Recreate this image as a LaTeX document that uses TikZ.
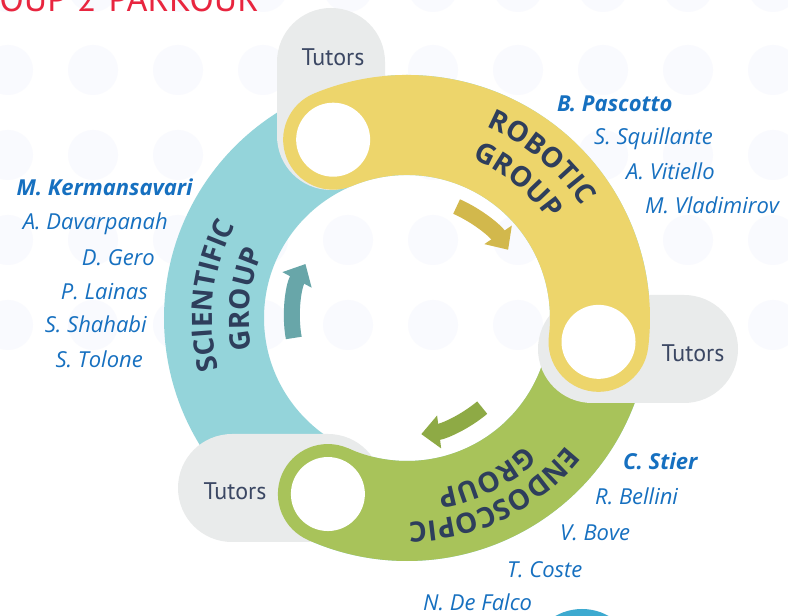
\documentclass[tikz,border=0pt]{standalone}
\usepackage{fontspec}
\newfontfamily\namefont{Open Sans}
\newfontfamily\tutfont{PT Sans}
\newfontfamily\grpfont{Open Sans}
\usetikzlibrary{arrows.meta,decorations.text}
\definecolor{tealband}{HTML}{94D4DA}
\definecolor{yellowband}{HTML}{EDD56B}
\definecolor{greenband}{HTML}{A8C35A}
\definecolor{pillgrey}{HTML}{E9EBEB}
\definecolor{navy}{HTML}{2E3E5C}
\definecolor{tutorc}{HTML}{3B4763}
\definecolor{nameblue}{HTML}{1670C0}
\definecolor{titlered}{HTML}{E8253F}
\definecolor{arrowY}{HTML}{D2B84C}
\definecolor{arrowT}{HTML}{68A6A9}
\definecolor{arrowG}{HTML}{8EAA45}
\definecolor{dotc}{HTML}{F9FAFE}
\definecolor{blobc}{HTML}{3DAAD0}
\tikzset{
  member/.style={font=\namefont\itshape\fontsize{22}{22}\selectfont, text=nameblue, inner sep=0pt},
  leader/.style={member, font=\namefont\bfseries\itshape\fontsize{22}{22}\selectfont},
  tutorlbl/.style={font=\tutfont\fontsize{24}{24}\selectfont, text=tutorc, inner sep=0pt},
  pillshape/.style={fill=pillgrey, rounded corners=54pt},
  band/.style={line width=100pt},
  turnarrow/.style={line width=16pt, -{Triangle[width=32pt,length=18pt]}},
  grplabel/.style={decorate, decoration={text along path, text align=center, text color=navy, text={|\grpfont\bfseries\fontsize{28}{28}\selectfont|#1}}}
}
\begin{document}
\begin{tikzpicture}[x=1pt,y=1pt]
\useasboundingbox (0,0) rectangle (788,616);
\clip (0,0) rectangle (788,616);
\fill[white] (0,0) rectangle (788,616);
% faint background dots
\foreach \yy in {629,546,461,376,291}
  \foreach \xx in {8,93,...,773}
    \fill[dotc] (\xx,\yy) circle (25pt);
% title
\node[font=\tutfont\fontsize{36}{36}\selectfont, text=titlered, inner sep=0pt, anchor=base east] (title) at (259,604) {GROUP 2\hspace{12pt}PARKOUR};
% geometry
\coordinate (C) at (407,298);
\path (C) ++(112.5:193) coordinate (k1);
\path (C) ++(-7.1:193) coordinate (k2);
\path (C) ++(-114.2:193) coordinate (k3);
% scientific (teal) ring
\draw[tealband, band] (C) circle (193pt);
% bottom-left pill
\fill[pillshape] (178,74) rectangle (382,182);
% endoscopic (green) band
\draw[greenband, band] (C) ++(-2:193) arc (-2:-114.2:193);
\fill[greenband] (k3) circle (50pt);
% right and top pills
\fill[pillshape] (538,213) rectangle (738,321);
\fill[pillshape] (277,426) rectangle (385,608);
% robotic (yellow) band
\draw[yellowband, band, line cap=round] (C) ++(112.5:193) arc (112.5:-7.1:193);
% holes
\foreach \k in {k1,k2,k3} \fill[white] (\k) circle (37pt);
% inner arrows
\draw[arrowY, turnarrow] (C) ++(66:122) arc (66:34:122);
\draw[arrowT, turnarrow] (C) ++(190:115) arc (190:152:115);
\draw[arrowG, turnarrow] (C) ++(-50:117) arc (-50:-83:117);
% group labels
\path[grplabel=ROBOTIC] (C) ++(95:207) arc (95:5:207);
\path[grplabel=GROUP] (C) ++(96:172) arc (96:6:172);
\path[grplabel=SCIENTIFIC] (C) ++(218.5:195) arc (218.5:128.5:195);
\path[grplabel=GROUP] (C) ++(218.5:158) arc (218.5:128.5:158);
\path[grplabel=ENDOSCOPIC] (C) ++(-19:204) arc (-19:-109:204);
\path[grplabel=GROUP] (C) ++(-18.5:174) arc (-18.5:-108.5:174);
% tutors
\node[tutorlbl] (t1) at (333,559) {Tutors};
\node[tutorlbl] (t2) at (693,263) {Tutors};
\node[tutorlbl] (t3) at (235,125) {Tutors};
% robotic names
\node[leader, anchor=base west] (pascotto) at (557,504) {B. Pascotto};
\node[member, anchor=base west] (squillante) at (594,471) {S. Squillante};
\node[member, anchor=base west] (vitiello) at (626,436) {A. Vitiello};
\node[member, anchor=base west] (vladimirov) at (645,402) {M. Vladimirov};
% scientific names
\node[leader, anchor=base east] (kerman) at (193,420) {M. Kermansavari};
\node[member, anchor=base east] (davar) at (168,386) {A. Davarpanah};
\node[member, anchor=base east] (gero) at (155,350) {D. Gero};
\node[member, anchor=base east] (lainas) at (148,316) {P. Lainas};
\node[member, anchor=base east] (shahabi) at (147,283) {S. Shahabi};
\node[member, anchor=base east] (tolone) at (143,248) {S. Tolone};
% endoscopic names
\node[leader, anchor=base west] (stier) at (623,146) {C. Stier};
\node[member, anchor=base west] (bellini) at (595,111) {R. Bellini};
\node[member, anchor=base west] (bove) at (560,75) {V. Bove};
\node[member, anchor=base west] (coste) at (507,38) {T. Coste};
\node[member, anchor=base west] (defalco) at (423,5) {N. De Falco};
% partial blob at bottom edge
\fill[blobc] (582,-35) ellipse (48pt and 42pt);
\end{tikzpicture}
\end{document}
